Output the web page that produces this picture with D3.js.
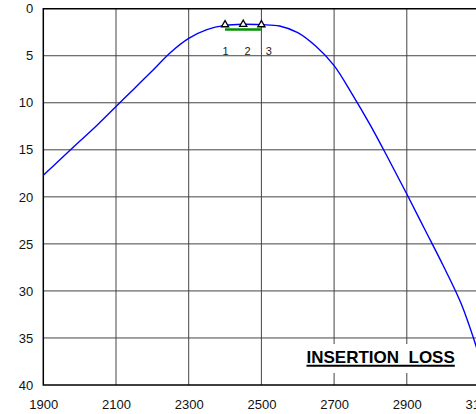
<!DOCTYPE html>
<html>
<head>
<meta charset="utf-8">
<script src="https://cdn.jsdelivr.net/npm/d3@7"></script>
<style>
  body { margin: 0; background: #fff; overflow: hidden; }
  text { font-family: "Liberation Sans", Arial, sans-serif; }
</style>
</head>
<body>
<div id="chart"></div>
<script>
// insertion loss curve (MHz, dB)
const freqs = [1900, 1950, 2000, 2050, 2100, 2150, 2200, 2250, 2300, 2350, 2400, 2450, 2500,
  2550, 2600, 2650, 2700, 2750, 2800, 2850, 2900, 2950, 3000, 3050, 3100]
const loss = [17.7, 15.9, 14.1, 12.3, 10.4, 8.5, 6.6, 4.65, 3.15, 2.22, 1.77, 1.65, 1.7,
  1.84, 2.55, 4.0, 6.05, 9.1, 12.4, 16.0, 19.7, 23.5, 27.3, 31.4, 37.0]

// markers
const markerFreqs = [2400, 2450, 2500]
const markerLoss = [1.7, 1.65, 1.7]
const markerNames = ['1', '2', '3']

// spec line
const specFreqs = [2400, 2500]
const specLoss = 2.2

const xTicks = [1900, 2100, 2300, 2500, 2700, 2900, 3100]
const yTicks = [0, 5, 10, 15, 20, 25, 30, 35, 40]
const legendText = 'INSERTION\u00a0\u00a0LOSS'

let width = 476
let height = 414
let margin = ({top: 8.7, right: -3.5, bottom: 29, left: 43.3})

let x = d3.scaleLinear()
  .domain([1900, 3100])
  .range([margin.left, width - margin.right])

let y = d3.scaleLinear()
  .domain([0, 40])
  .range([margin.top, height - margin.bottom])

const svg = d3.select('#chart')
  .append('svg')
  .attr('width', width)
  .attr('height', height)

// grid
svg.append('g')
  .selectAll('line')
  .data(xTicks.slice(1))
  .enter()
  .append('line')
  .attr('x1', d => x(d)).attr('x2', d => x(d))
  .attr('y1', y(0)).attr('y2', y(40))
  .attr('stroke', '#444')
  .attr('stroke-width', 1)

svg.append('g')
  .selectAll('line')
  .data(yTicks.slice(1, -1))
  .enter()
  .append('line')
  .attr('x1', x(1900)).attr('x2', x(3100))
  .attr('y1', d => y(d)).attr('y2', d => y(d))
  .attr('stroke', '#444')
  .attr('stroke-width', 1)

// frame
svg.append('path')
  .attr('d', `M${x(3100) + 5},${y(0)}H${x(1900)}V${y(40)}H${x(3100) + 5}`)
  .attr('fill', 'none')
  .attr('stroke', '#000')
  .attr('stroke-width', 1.5)

// axes labels
let xAxis = g => g
  .attr('transform', `translate(0,${y(40)})`)
  .call(d3.axisBottom(x).tickValues(xTicks).tickSize(0).tickPadding(15).tickFormat(d3.format('d')))
  .call(g => g.select('.domain').remove())

let yAxis = g => g
  .attr('transform', `translate(${x(1900)},0)`)
  .call(d3.axisLeft(y).tickValues(yTicks).tickSize(0).tickPadding(10))
  .call(g => g.select('.domain').remove())

svg.append('g').call(xAxis)
svg.append('g').call(yAxis)

svg.selectAll('.tick text')
  .attr('font-family', '"Liberation Sans", Arial, sans-serif')
  .attr('font-size', 13)
  .attr('fill', '#111')

// curve
let points = freqs.map((f, i) => [f, loss[i]])
svg.append('path')
  .datum(points)
  .attr('fill', 'none')
  .attr('stroke', '#0000ff')
  .attr('stroke-width', 1.4)
  .attr('d', d3.line().x(d => x(d[0])).y(d => y(d[1])).curve(d3.curveCatmullRom.alpha(0.5)))

// spec line
svg.append('line')
  .attr('x1', x(specFreqs[0])).attr('x2', x(specFreqs[1]))
  .attr('y1', y(specLoss)).attr('y2', y(specLoss))
  .attr('stroke', '#009000')
  .attr('stroke-width', 2.5)

// markers
svg.append('g')
  .selectAll('path')
  .data(markerFreqs)
  .enter()
  .append('path')
  .attr('transform', (d, i) => `translate(${x(d)},${y(markerLoss[i])})`)
  .attr('d', d3.symbol().type(d3.symbolTriangle).size(22))
  .attr('fill', '#fff')
  .attr('stroke', '#000')
  .attr('stroke-width', 1.3)

let labelShift = [0.6, 4.4, 7.5]
svg.append('g')
  .selectAll('text')
  .data(markerFreqs)
  .enter()
  .append('text')
  .attr('x', (d, i) => x(d) + labelShift[i])
  .attr('y', y(4.9))
  .attr('text-anchor', 'middle')
  .attr('font-size', 11)
  .attr('fill', '#222')
  .text((d, i) => markerNames[i])

// legend
let legend = svg.append('g')
legend.append('rect')
  .attr('x', 300).attr('y', 344)
  .attr('width', 166).attr('height', 29)
  .attr('fill', '#fff')

legend.append('text')
  .attr('x', 306.5)
  .attr('y', 362.7)
  .attr('font-size', 17)
  .attr('font-weight', 'bold')
  .attr('fill', '#000')
  .text(legendText)

let tw = legend.select('text').node().getComputedTextLength()
legend.append('line')
  .attr('x1', 306.5).attr('x2', 306.5 + tw)
  .attr('y1', 365.7).attr('y2', 365.7)
  .attr('stroke', '#000')
  .attr('stroke-width', 2)
</script>
</body>
</html>
